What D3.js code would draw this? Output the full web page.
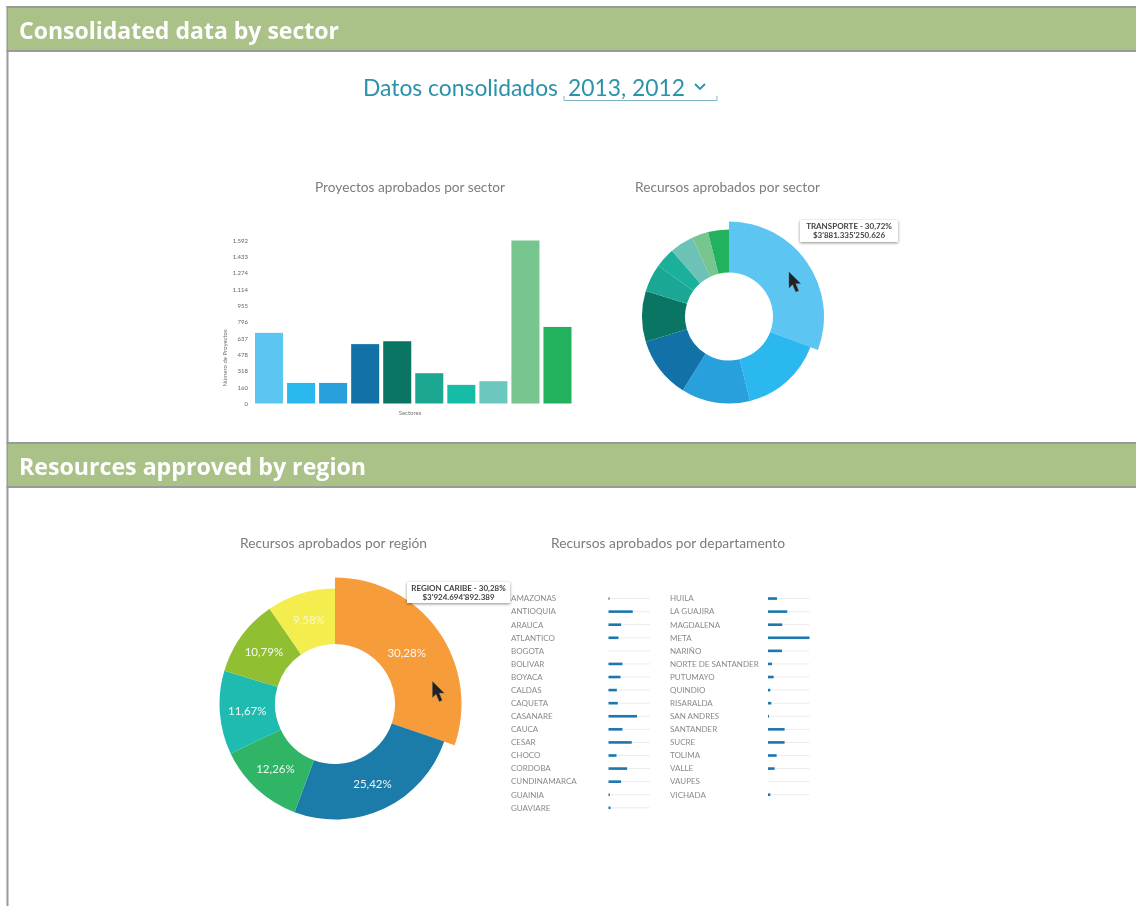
<!DOCTYPE html>
<html><head><meta charset="utf-8">
<script src="https://cdnjs.cloudflare.com/ajax/libs/d3/7.8.5/d3.min.js"></script>
<style>
html,body{margin:0;padding:0;background:#fff;overflow:hidden}
svg{display:block;filter:blur(0.35px)}
text{font-family:Lato,sans-serif}
</style></head><body><div id="c"></div>
<script>
const sectionTitles = ["Consolidated data by sector", "Resources approved by region"];
const yearsLabel = "2013, 2012";
const sectors = ["TRANSPORTE","S2","S3","S4","S5","S6","S7","S8","S9","S10"];
const sectorProjects = [690,201,201,580,608,296,182,218,1592,748];
const sectorTicks = [0,160,318,478,637,796,955,1114,1274,1433,1592];
const sectorColors = ["#5cc5f2","#2bb8ee","#28a0dc","#1272a8","#0a7563","#1ca793","#17bca6","#6cc7be","#77c58f","#22b25d"];
const sectorDonutColors = ["#5cc5f2","#2bb8ee","#28a0dc","#1272a8","#0a7563","#1aa794","#1bb09c","#6cc2b6","#77c58f","#22b25d"];
const sectorResources = [30.72,15.4,12.8,11.4,9.4,5.2,3.7,4.4,3.1,3.88];
const regions = ["REGION CARIBE","R2","R3","R4","R5","R6"];
const regionShares = [30.28,25.42,12.26,11.67,10.79,9.58];
const regionColors = ["#f79c3a","#1b7ba9","#30b566","#20bbb0","#90c032","#f4ed4e"];
const deptLeft = ["AMAZONAS","ANTIOQUIA","ARAUCA","ATLANTICO","BOGOTA","BOLIVAR","BOYACA","CALDAS","CAQUETA","CASANARE","CAUCA","CESAR","CHOCO","CORDOBA","CUNDINAMARCA","GUAINIA","GUAVIARE"];
const deptLeftValues = [3,73,38,30,0,42,36,25,28,86,42,70,24,56,38,4,6];
const deptRight = ["HUILA","LA GUAJIRA","MAGDALENA","META","NARIÑO","NORTE DE SANTANDER","PUTUMAYO","QUINDIO","RISARALDA","SAN ANDRES","SANTANDER","SUCRE","TOLIMA","VALLE","VAUPES","VICHADA"];
const deptRightValues = [27,58,43,125,42,12,17,7,10,3,50,50,26,20,0,7];

const W=1136,H=906;
const svg=d3.select("#c").append("svg").attr("width",W).attr("height",H);
const defs=svg.append("defs");
defs.append("filter").attr("id","softer").append("feGaussianBlur").attr("stdDeviation",0.4);
const sh=defs.append("filter").attr("id","shadow").attr("x","-10%").attr("y","-30%").attr("width","120%").attr("height","170%");
sh.append("feDropShadow").attr("dx",0).attr("dy",1).attr("stdDeviation",1.5).attr("flood-color","#000").attr("flood-opacity",0.45);

// page frame and section bands
svg.append("rect").attr("x",6.5).attr("y",6).attr("width",2).attr("height",H-6).attr("fill","#9a9a9a");
[[7,44],[443,44]].forEach(([y,h],i)=>{
  svg.append("rect").attr("x",8).attr("y",y).attr("width",W-8).attr("height",h).attr("fill","#aac188");
  svg.append("rect").attr("x",6.5).attr("y",y-1).attr("width",W-6).attr("height",2).attr("fill","#9a9a9a");
  svg.append("rect").attr("x",6.5).attr("y",y+h-1).attr("width",W-6).attr("height",2).attr("fill","#9a9a9a");
  svg.append("text").attr("x",19).attr("y",y+32).attr("fill","#fff")
    .style("font-family","'Open Sans'").style("font-weight",700).style("font-size","24px")
    .attr("textLength",i?347:320).attr("lengthAdjust","spacingAndGlyphs").text(sectionTitles[i]);
});

// heading with selector
svg.append("text").attr("x",363).attr("y",96).attr("fill","#2a92ab").style("font-size","24px").attr("textLength",195).attr("lengthAdjust","spacingAndGlyphs").text("Datos consolidados");
svg.append("text").attr("x",568).attr("y",96).attr("fill","#2a92ab").style("font-size","24px").attr("textLength",117).attr("lengthAdjust","spacingAndGlyphs").text(yearsLabel);
svg.append("path").attr("d","M564 96V100.5H717V96").attr("fill","none").attr("stroke","#7fb6c6").attr("stroke-width",1);
svg.append("path").attr("d","M695 84L700 89L705 84").attr("fill","none").attr("stroke","#2a92ab").attr("stroke-width",1.8);

// chart headings
[["Proyectos aprobados por sector",315,192,190],["Recursos aprobados por sector",635,192,185],
 ["Recursos aprobados por región",240,548,187],["Recursos aprobados por departamento",551,548,234]]
 .forEach(([t,x,y,l])=>svg.append("text").attr("x",x).attr("y",y).attr("fill","#7c7c7c").style("font-size","14px").attr("textLength",l).attr("lengthAdjust","spacingAndGlyphs").text(t));

// bar chart
const x=d3.scaleBand().domain(sectors).range([255,571.5]).paddingInner(0.125).paddingOuter(0);
const y=d3.scaleLinear().domain([0,1592]).range([403.5,240.5]);
const g=svg.append("g");
g.selectAll("rect").data(sectors).join("rect").attr("x",d=>x(d)).attr("width",x.bandwidth())
  .attr("y",(d,i)=>y(sectorProjects[i])).attr("height",(d,i)=>y(0)-y(sectorProjects[i]))
  .attr("fill",(d,i)=>sectorColors[i]);
const fmt=d3.formatLocale({decimal:",",thousands:".",grouping:[3],currency:["$",""]}).format(",d");
const ax=svg.append("g").attr("transform","translate(250,0)").attr("filter","url(#softer)")
  .call(d3.axisLeft(y).tickValues(sectorTicks).tickFormat(fmt).tickSize(0).tickPadding(2));
ax.select(".domain").remove();
ax.selectAll("text").style("font-family","Lato").style("font-size","6px").attr("fill","#666");
svg.append("text").attr("transform","translate(227,358) rotate(-90)").attr("text-anchor","middle").attr("fill","#777").attr("filter","url(#softer)").style("font-size","6px").text("Número de Proyectos");
svg.append("text").attr("x",410).attr("y",415).attr("text-anchor","middle").attr("fill","#777").attr("filter","url(#softer)").style("font-size","6px").text("Sectores");

// donuts
function donut(cx,cy,ri,ro,rx,vals,cols){
  const arcs=d3.pie().sort(null).value(d=>d)(vals);
  const gg=svg.append("g").attr("transform",`translate(${cx},${cy})`);
  gg.selectAll("path").data(arcs).join("path")
    .attr("d",(d,i)=>d3.arc().innerRadius(ri).outerRadius(i===0?rx:ro)(d))
    .attr("fill",(d,i)=>cols[i]);
  return {gg,arcs};
}
donut(729,316.5,44,87,95,sectorResources,sectorDonutColors);
const d2=donut(335,704,60,115.5,126.5,regionShares,regionColors);
const labelArc=d3.arc().innerRadius(88).outerRadius(88);
d2.gg.selectAll("text").data(d2.arcs).join("text")
  .attr("x",d=>labelArc.centroid(d)[0]).attr("y",d=>labelArc.centroid(d)[1]+4)
  .attr("text-anchor","middle").attr("fill","#fff").attr("fill-opacity",(d,i)=>i===5?0.65:0.92)
  .style("font-size","11.5px").text(d=>d.value.toFixed(2).replace(".",",")+"%");

// tooltips
function tip(x0,y0,w,h,a,b){
  svg.append("rect").attr("x",x0).attr("y",y0).attr("width",w).attr("height",h).attr("fill","#fff").attr("filter","url(#shadow)");
  [a,b].forEach((t,i)=>svg.append("text").attr("x",x0+w/2).attr("y",y0+9+i*8.5).attr("text-anchor","middle")
    .attr("fill","#444").style("font-size","8px").style("font-weight",700).attr("filter","url(#softer)").text(t));
}
tip(800,220,98,22,"TRANSPORTE - 30,72%","$3'881.335'250.626");
tip(407,582,103,21,"REGION CARIBE - 30,28%","$3'924.694'892.389");

// cursors
function cursor(px,py){
  svg.append("path").attr("transform",`translate(${px},${py})`)
    .attr("d","M0 0V16L3.6 12.6L6.8 20L9.6 18.8L6.6 11.6H11.6Z").attr("fill","#222").attr("stroke","#555").attr("stroke-width",0.4);
}
cursor(789,272);cursor(432.5,681.5);

// department list
const w=d3.scaleLinear().domain([0,125]).range([0,41.5]);
function dept(names,vals,lx,bx){
  const r=d3.scaleBand().domain(names).range([592,592+names.length*13.08]);
  const c=svg.append("g").attr("filter","url(#softer)");
  c.selectAll("text").data(names).join("text").attr("x",lx).attr("y",d=>r(d)+r.bandwidth()/2+2.8)
    .attr("fill","#8a8a8a").style("font-size","8px").text(d=>d);
  c.selectAll(".t").data(names).join("line").attr("class","t").attr("x1",bx).attr("x2",bx+w(125))
    .attr("y1",d=>r(d)+r.bandwidth()/2).attr("y2",d=>r(d)+r.bandwidth()/2).attr("stroke","#ececec").attr("stroke-width",1);
  c.selectAll(".b").data(names).join("rect").attr("class","b").attr("x",bx).attr("width",(d,i)=>w(vals[i]))
    .attr("y",d=>r(d)+r.bandwidth()/2-1.3).attr("height",2.6).attr("fill","#1a76b0");
}
dept(deptLeft,deptLeftValues,511,608.5);
dept(deptRight,deptRightValues,670,768);
</script></body></html>
